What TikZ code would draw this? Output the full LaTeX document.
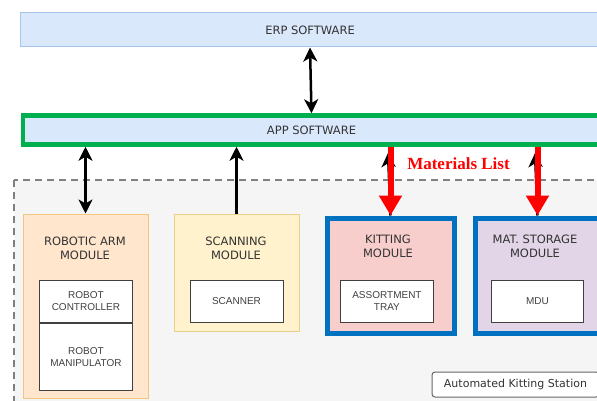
\documentclass[tikz,border=0pt]{standalone}
\usepackage{fontspec}
\setmainfont{DejaVu Sans}
\newfontfamily\helv{Liberation Sans}
\newfontfamily\serifb{Liberation Serif}
\usetikzlibrary{arrows.meta}
\definecolor{swfill}{HTML}{DAE8FC}
\definecolor{swline}{HTML}{A9C4EB}
\definecolor{appgreen}{HTML}{00B050}
\definecolor{modblue}{HTML}{0070C0}
\definecolor{orfill}{HTML}{FFE6CC}
\definecolor{orline}{HTML}{F2C580}
\definecolor{yefill}{HTML}{FFF2CC}
\definecolor{yeline}{HTML}{E8D08A}
\definecolor{pkfill}{HTML}{F8CECC}
\definecolor{pufill}{HTML}{E1D5E7}
\definecolor{cfill}{HTML}{F5F5F5}
\definecolor{cline}{HTML}{808080}
\definecolor{txt}{HTML}{333333}
\tikzset{
  swbox/.style={rectangle, fill=swfill, anchor=center, inner sep=0pt,
    font=\fontsize{11.5}{14}\selectfont, text=txt},
  modbox/.style={rectangle, anchor=north west, inner sep=0pt},
  titletext/.style={align=center, inner sep=0pt, font=\fontsize{11.5}{14.5}\selectfont, text=txt},
  innerbox/.style={rectangle, draw=black!75, line width=0.9pt, fill=white, align=center,
    inner sep=0pt, font=\helv\fontsize{10}{12}\selectfont, text=black!75},
  blkarrow/.style={line width=2.5pt, black, -{Stealth[length=14pt,width=14pt,inset=4pt]}},
  blkdouble/.style={line width=2.5pt, black, {Stealth[length=14pt,width=14pt,inset=4pt]}-{Stealth[length=14pt,width=14pt,inset=4pt]}},
  redarrow/.style={line width=6pt, red, -{Triangle[length=20pt,width=22pt]}},
}
\begin{document}
\begin{tikzpicture}[x=1pt,y=-1pt]
\clip (0,0) rectangle (597,401);
\useasboundingbox (0,0) rectangle (597,401);
% container
\draw[fill=cfill, draw=cline, line width=2pt, dash pattern=on 7pt off 5pt] (14,180) rectangle (660,460);
% software boxes
\node[swbox, draw=swline, line width=1pt, minimum width=580, minimum height=34] (erp) at (310,30) {ERP SOFTWARE};
\node[swbox, draw=appgreen, line width=4.5pt, minimum width=577, minimum height=29] (app) at (311.5,130) {APP SOFTWARE};
% modules
\node[modbox, fill=orfill, draw=orline, line width=1pt, minimum width=125, minimum height=184] (arm) at (22.5,213.5) {};
\node[titletext] (armt) at (85,248.5) {ROBOTIC ARM\\MODULE};
\node[innerbox, anchor=north west, minimum width=93, minimum height=42] (ctrl) at (39,280) {ROBOT\\CONTROLLER};
\node[innerbox, anchor=north, minimum width=93, minimum height=67] (manip) at (ctrl.south) {ROBOT\\MANIPULATOR};

\node[modbox, fill=yefill, draw=yeline, line width=1pt, minimum width=125, minimum height=117] (scan) at (173.5,213.5) {};
\node[titletext] (scant) at (236,248.5) {SCANNING\\MODULE};
\node[innerbox, anchor=north west, minimum width=93, minimum height=42] (scanner) at (189.5,280) {SCANNER};

\node[modbox, fill=pkfill, draw=modblue, line width=5pt, minimum width=127, minimum height=115] (kit) at (324.5,215.5) {};
\node[titletext] (kitt) at (388,246.5) {KITTING\\MODULE};
\node[innerbox, anchor=north west, minimum width=93, minimum height=42] (tray) at (340,280) {ASSORTMENT\\TRAY};

\node[modbox, fill=pufill, draw=modblue, line width=5pt, minimum width=125, minimum height=115] (mat) at (472.5,215.5) {};
\node[titletext] (matt) at (535,246.5) {MAT. STORAGE\\MODULE};
\node[innerbox, anchor=north west, minimum width=92, minimum height=42] (mdu) at (491,280) {MDU};

% label box
\node[rectangle, rounded corners=3pt, draw=black!60, line width=1pt, fill=white, minimum width=167, minimum height=25,
  inner sep=0pt, font=\fontsize{11}{13}\selectfont, text=txt] (station) at (515.5,384.5) {Automated Kitting Station};

% connectors
\draw[blkdouble] (erp.south) -- (app.north);
\draw[blkdouble] (app.south -| arm.north) -- (arm.north);
\draw[blkarrow] (scan.north) -- (app.south -| scan.north);
\coordinate (kittip) at (388,153);
\coordinate (mattip) at (535,153);
\draw[blkarrow] (kit.north) -- (kittip);
\draw[blkarrow] (mat.north) -- (mattip);
\draw[redarrow] (app.south -| kit.north) -- (kit.north);
\draw[redarrow] (app.south -| mat.north) -- (mat.north);
\node[anchor=base, inner sep=0pt, text=red, font=\serifb\bfseries\fontsize{17}{20}\selectfont] (mlist) at (458.5,169) {Materials List};
\end{tikzpicture}
\end{document}
